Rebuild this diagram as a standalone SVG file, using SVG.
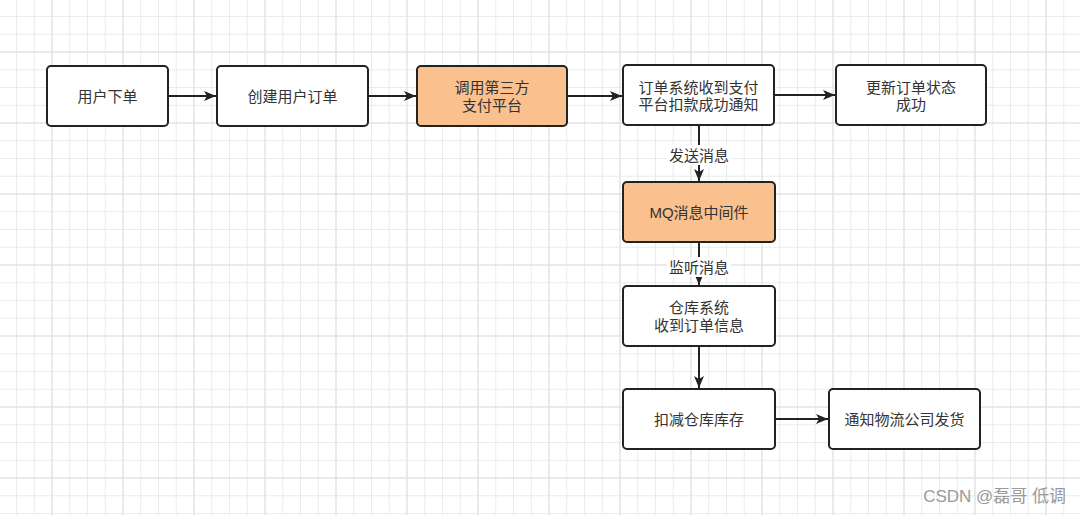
<svg xmlns="http://www.w3.org/2000/svg" width="1080" height="515" viewBox="0 0 1080 515">
<defs>
<pattern id="minor" x="16" y="16" width="17.75" height="17.75" patternUnits="userSpaceOnUse">
<path d="M0.5 0V17.75M0 0.5H17.75" fill="none" stroke="#ebebeb" stroke-width="1"/>
</pattern>
<pattern id="major" x="51.5" y="51.5" width="71" height="71" patternUnits="userSpaceOnUse">
<path d="M0.5 0V71M0 0.5H71" fill="none" stroke="#dedede" stroke-width="1"/>
</pattern>
<marker id="arr" viewBox="0 0 12 10" refX="12" refY="5" markerWidth="12" markerHeight="10" markerUnits="userSpaceOnUse" orient="auto">
<path d="M0 0L12 5L0 10L3 5Z" fill="#222"/>
</marker>
</defs>
<style>
.n{fill:#fff;stroke:#222;stroke-width:2}
.o{fill:#fac08d;stroke:#222;stroke-width:2}
.t{font-family:"Liberation Sans","Noto Sans CJK SC",sans-serif;font-size:15px;fill:#333;text-anchor:middle;dominant-baseline:central}
.e{fill:none;stroke:#222;stroke-width:2}
.lb{fill:#fff}
</style>
<rect width="1080" height="515" fill="#fff"/>
<rect width="1080" height="515" fill="url(#minor)"/>
<rect width="1080" height="515" fill="url(#major)"/>

<g id="connectors">
<path class="e" d="M168 96H216" marker-end="url(#arr)"/>
<path class="e" d="M368 96H416" marker-end="url(#arr)"/>
<path class="e" d="M567 96H622" marker-end="url(#arr)"/>
<path class="e" d="M774 95H835" marker-end="url(#arr)"/>
<path class="e" d="M699 125V181" marker-end="url(#arr)"/>
<rect class="lb" x="667" y="145" width="64" height="20"/>
<text class="t" x="699" y="155">发送消息</text>
<path class="e" d="M699 242V285" marker-end="url(#arr)"/>
<rect class="lb" x="667" y="257" width="64" height="20"/>
<text class="t" x="699" y="267">监听消息</text>
<path class="e" d="M699 346V388" marker-end="url(#arr)"/>
<path class="e" d="M775 419H828" marker-end="url(#arr)"/>
</g>

<g id="n1"><rect class="n" x="47" y="66" width="121" height="60" rx="4"/><text class="t" x="107.5" y="96">用户下单</text></g>
<g id="n2"><rect class="n" x="217" y="66" width="151" height="60" rx="4"/><text class="t" x="292.5" y="96">创建用户订单</text></g>
<g id="n3"><rect class="o" x="417" y="66" width="150" height="60" rx="4"/><text class="t" x="492" y="87.5">调用第三方</text><text class="t" x="492" y="105">支付平台</text></g>
<g id="n4"><rect class="n" x="623" y="65" width="151" height="60" rx="4"/><text class="t" x="698.5" y="87">订单系统收到支付</text><text class="t" x="698.5" y="104.5">平台扣款成功通知</text></g>
<g id="n5"><rect class="n" x="836" y="65" width="150" height="60" rx="4"/><text class="t" x="911" y="87">更新订单状态</text><text class="t" x="911" y="104.5">成功</text></g>
<g id="n6"><rect class="o" x="623" y="182" width="152" height="60" rx="4"/><text class="t" x="699" y="212">MQ消息中间件</text></g>
<g id="n7"><rect class="n" x="623" y="286" width="152" height="60" rx="4"/><text class="t" x="699" y="307.5">仓库系统</text><text class="t" x="699" y="325">收到订单信息</text></g>
<g id="n8"><rect class="n" x="623" y="389" width="152" height="60" rx="4"/><text class="t" x="699" y="419">扣减仓库库存</text></g>
<g id="n9"><rect class="n" x="829" y="389" width="151" height="60" rx="4"/><text class="t" x="904.5" y="419">通知物流公司发货</text></g>

<text x="1066" y="502" style="font-family:'Liberation Sans','Noto Sans CJK SC',sans-serif;font-size:17px;fill:#9a9a9a;text-anchor:end">CSDN @磊哥 低调</text>
</svg>
